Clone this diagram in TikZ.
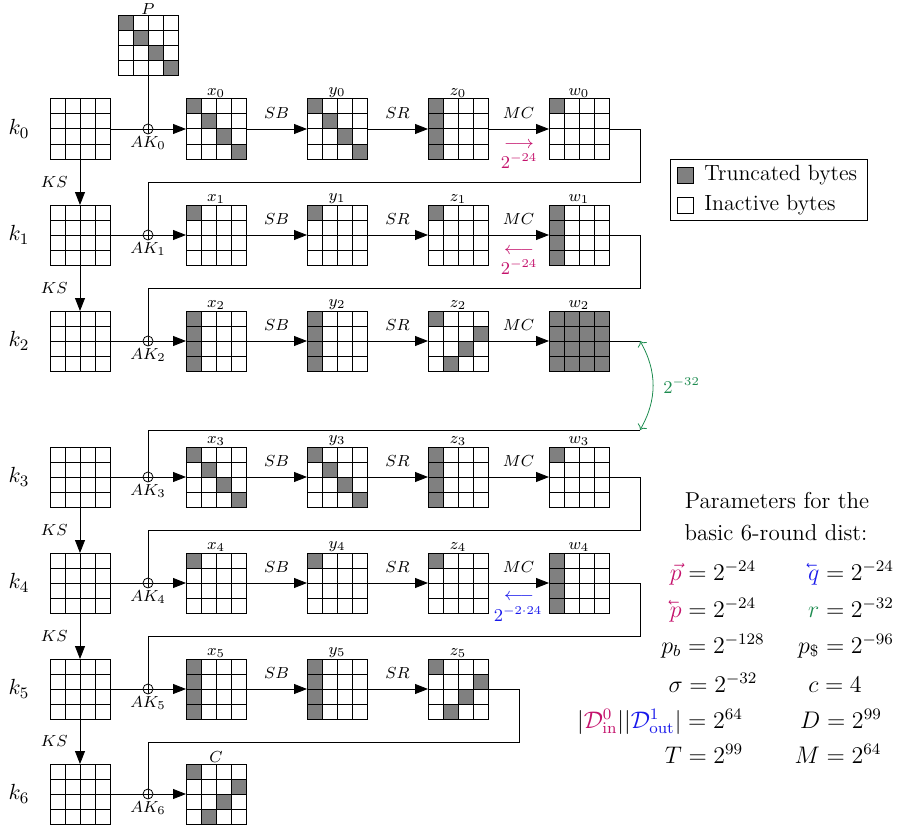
\documentclass[tikz,border=0pt]{standalone}
\usepackage{amsmath, amssymb}
\usepackage{xcolor}
\usepackage{tikz}
\usetikzlibrary{arrows.meta}

\definecolor{fwdcol}{RGB}{196,18,108}
\definecolor{bwdcol}{RGB}{25,25,235}
\definecolor{mitcol}{RGB}{30,140,80}

% backward arrow accent
\newcommand{\lvec}[1]{\reflectbox{$\vec{\reflectbox{$#1$}}$}}

% a 4x4 state: [grey cells col/row]{name}{x}{y}{node options}
\newcommand{\stategrid}[5][]{%
  \node[stbox, #5] (#2) at (#3,#4) {};
  \begin{scope}[shift={(#3-30,#4-30)}]
    \if\relax\detokenize{#1}\relax\else
      \foreach \gc/\gr in {#1} \fill[truncfill] (\gc*15,\gr*15) rectangle ++(15,15);
    \fi
    \foreach \gi in {15,30,45} {\draw[gridln] (\gi,0) -- (\gi,60); \draw[gridln] (0,\gi) -- (60,\gi);}
    \draw[gridln] (0,0) rectangle (60,60);
  \end{scope}}

\begin{document}
\begin{tikzpicture}[x=0.5pt, y=-0.5pt,
  stbox/.style={minimum size=30pt, inner sep=0pt, outer sep=0pt},
  truncfill/.style={fill=gray},
  gridln/.style={line width=0.5pt},
  slbl/.style={font=\fontsize{8.5}{9}\selectfont, inner sep=0.5pt},
  oplbl/.style={font=\fontsize{8}{9}\selectfont, inner sep=1pt},
  klbl/.style={font=\fontsize{11}{12}\selectfont},
  xorop/.style={circle, draw, minimum size=5pt, inner sep=0pt,
    path picture={\draw (path picture bounding box.north) -- (path picture bounding box.south)
      (path picture bounding box.west) -- (path picture bounding box.east);}},
  opline/.style={-{Triangle[length=6.5pt,width=5pt]}},
  prlbl/.style={font=\fontsize{9}{10}\selectfont, inner sep=0pt},
  prarr/.style={font=\fontsize{9.5}{10}\selectfont, inner sep=0pt},
  legtxt/.style={font=\fontsize{11}{13}\selectfont, anchor=base west, inner sep=0pt},
  param/.style={font=\fontsize{11.5}{13}\selectfont, anchor=base, inner sep=0pt}]
\useasboundingbox (0,0) rectangle (899,829);

% plaintext
\stategrid[0/0,1/1,2/2,3/3]{P}{148}{46}{label={[slbl]above:$P$}}

% key schedule and AddRoundKey
\foreach \i/\yy in {0/129,1/235,2/341,3/477,4/583,5/689,6/794} {
  \stategrid{k\i}{80}{\yy}{}
  \node[klbl] (kl\i) at (19,\yy) {$k_{\i}$};
  \node[xorop, label={[oplbl]below:$AK_{\i}$}] (ak\i) at (148,\yy) {};
  \draw (k\i) -- (ak\i);
}
\foreach \i/\j in {0/1,1/2,3/4,4/5,5/6}
  \draw[opline] (k\i) -- node[oplbl, left=5pt] (ks\i) {$KS$} (k\j);

% round 0
\stategrid[0/0,1/1,2/2,3/3]{x0}{216}{129}{label={[slbl]above:$x_0$}}
\stategrid[0/0,1/1,2/2,3/3]{y0}{337}{129}{label={[slbl]above:$y_0$}}
\stategrid[0/0,0/1,0/2,0/3]{z0}{458}{129}{label={[slbl]above:$z_0$}}
\stategrid[0/0]{w0}{579}{129}{label={[slbl]above:$w_0$}}
% round 1
\stategrid[0/0]{x1}{216}{235}{label={[slbl]above:$x_1$}}
\stategrid[0/0]{y1}{337}{235}{label={[slbl]above:$y_1$}}
\stategrid[0/0]{z1}{458}{235}{label={[slbl]above:$z_1$}}
\stategrid[0/0,0/1,0/2,0/3]{w1}{579}{235}{label={[slbl]above:$w_1$}}
% round 2
\stategrid[0/0,0/1,0/2,0/3]{x2}{216}{341}{label={[slbl]above:$x_2$}}
\stategrid[0/0,0/1,0/2,0/3]{y2}{337}{341}{label={[slbl]above:$y_2$}}
\stategrid[0/0,3/1,2/2,1/3]{z2}{458}{341}{label={[slbl]above:$z_2$}}
\stategrid[0/0,1/0,2/0,3/0,0/1,1/1,2/1,3/1,0/2,1/2,2/2,3/2,0/3,1/3,2/3,3/3]{w2}{579}{341}{label={[slbl]above:$w_2$}}
% round 3
\stategrid[0/0,1/1,2/2,3/3]{x3}{216}{477}{label={[slbl]above:$x_3$}}
\stategrid[0/0,1/1,2/2,3/3]{y3}{337}{477}{label={[slbl]above:$y_3$}}
\stategrid[0/0,0/1,0/2,0/3]{z3}{458}{477}{label={[slbl]above:$z_3$}}
\stategrid[0/0]{w3}{579}{477}{label={[slbl]above:$w_3$}}
% round 4
\stategrid[0/0]{x4}{216}{583}{label={[slbl]above:$x_4$}}
\stategrid[0/0]{y4}{337}{583}{label={[slbl]above:$y_4$}}
\stategrid[0/0]{z4}{458}{583}{label={[slbl]above:$z_4$}}
\stategrid[0/0,0/1,0/2,0/3]{w4}{579}{583}{label={[slbl]above:$w_4$}}
% round 5
\stategrid[0/0,0/1,0/2,0/3]{x5}{216}{689}{label={[slbl]above:$x_5$}}
\stategrid[0/0,0/1,0/2,0/3]{y5}{337}{689}{label={[slbl]above:$y_5$}}
\stategrid[0/0,3/1,2/2,1/3]{z5}{458}{689}{label={[slbl]above:$z_5$}}
% ciphertext
\stategrid[0/0,3/1,2/2,1/3]{C}{216}{794}{label={[slbl]above:$C$}}

\draw (P) -- (ak0);
\foreach \i in {0,...,5} {
  \draw[opline] (ak\i) -- (x\i);
  \draw[opline] (x\i) -- node[oplbl, above=4pt] (sb\i) {$SB$} (y\i);
  \draw[opline] (y\i) -- node[oplbl, above=4pt] (sr\i) {$SR$} (z\i);
}
\foreach \i in {0,...,4}
  \draw[opline] (z\i) -- node[oplbl, above=4pt] (mc\i) {$MC$} (w\i);
\draw[opline] (ak6) -- (C);

% feedback into the next round
\coordinate (t0) at (640,182);
\coordinate (t1) at (640,288);
\coordinate (e2) at (640,341);
\coordinate (s3) at (640,430);
\coordinate (t3) at (640,530);
\coordinate (t4) at (640,636);
\coordinate (t5) at (519,742);
\draw (w0) -| (t0) -| (ak1);
\draw (w1) -| (t1) -| (ak2);
\draw (w2) -- (e2);
\draw (s3) -| (ak3);
\draw (w3) -| (t3) -| (ak4);
\draw (w4) -| (t4) -| (ak5);
\draw (z5) -| (t5) -| (ak6);
\draw[mitcol, <->, bend left=30] (e2) to node[prlbl, right=5pt] (pm) {$2^{-32}$} (s3);

% probabilities through MC
\node[prarr, fwdcol] (fa0) at (519,145) {$\longrightarrow$};
\node[prlbl, fwdcol] (fp0) at (519,161) {$2^{-24}$};
\node[prarr, fwdcol] (fa1) at (519,251) {$\longleftarrow$};
\node[prlbl, fwdcol] (fp1) at (519,267) {$2^{-24}$};
\node[prarr, bwdcol] (ba4) at (519,597) {$\longleftarrow$};
\node[prlbl, bwdcol] (bp4) at (518,614) {$2^{-2\cdot 24}$};

% legend
\node[draw, minimum width=98.5pt, minimum height=30.5pt, inner sep=0pt] (leg) at (768.5,189.5) {};
\node[draw, fill=gray, minimum size=8pt, inner sep=0pt] (legt) at (685,175) {};
\node[legtxt] (legtt) at (704,180) {Truncated bytes};
\node[draw, minimum size=8pt, inner sep=0pt] (legi) at (685,205) {};
\node[legtxt] (legit) at (704,210) {Inactive bytes};

% parameters
\node[param] (par1) at (777,508) {Parameters for the};
\node[param] (par2) at (776,540) {basic 6-round dist:};
\node[param] (pf) at (713,580) {$\textcolor{fwdcol}{\vec{p}} = 2^{-24}$};
\node[param] (qb) at (851,580) {$\textcolor{bwdcol}{\lvec{q}} = 2^{-24}$};
\node[param] (pb) at (713,617) {$\textcolor{fwdcol}{\lvec{p}} = 2^{-24}$};
\node[param] (rr) at (851,617) {$\textcolor{mitcol}{r} = 2^{-32}$};
\node[param] (pbb) at (713,653) {$p_b = 2^{-128}$};
\node[param] (pdd) at (846,653) {$p_{\$} = 2^{-96}$};
\node[param] (sg) at (713,692) {$\sigma = 2^{-32}$};
\node[param] (cc) at (835,692) {$c = 4$};
\node[param] (dd) at (660,728) {$|\textcolor{fwdcol}{\mathcal{D}^0_{\mathrm{in}}}||\textcolor{bwdcol}{\mathcal{D}^1_{\mathrm{out}}}| = 2^{64}$};
\node[param] (da) at (841,728) {$D = 2^{99}$};
\node[param] (tt) at (704,763) {$T = 2^{99}$};
\node[param] (mm) at (838,763) {$M = 2^{64}$};
\end{tikzpicture}
\end{document}
